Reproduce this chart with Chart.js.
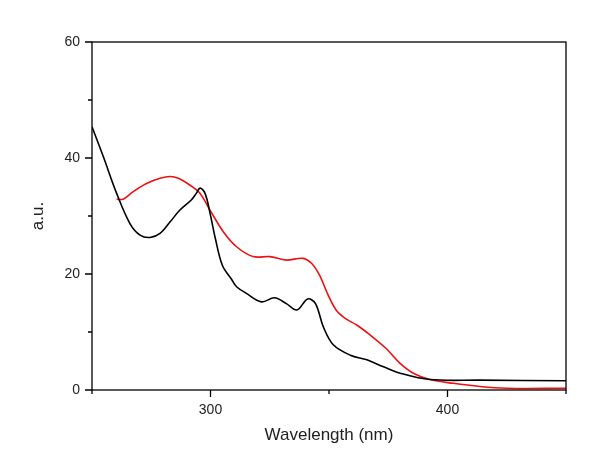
<!DOCTYPE html>
<html>
<head>
<meta charset="utf-8">
<script src="https://cdn.jsdelivr.net/npm/chart.js@4"></script>
<style>
  body { margin: 0; background: #fff; }
  canvas { display: block; }
</style>
</head>
<body>
<canvas id="spectra" width="605" height="465"></canvas>
<script>
// values
const blackX = [250, 254.8, 260.4, 266, 270.3, 274.5, 278.7, 283, 287, 292, 294, 295.6, 297.7, 299.8, 302, 305, 309, 311, 315, 321.5, 327, 332, 336.5, 341, 344.3, 347.6, 351.8, 359, 366, 373, 380, 392.6, 413.7, 450];
const blackY = [45.4, 40.2, 33.9, 28.7, 26.7, 26.3, 27.0, 29.0, 31.0, 32.8, 33.9, 34.8, 33.9, 30.5, 26.2, 21.5, 19.0, 17.8, 16.7, 15.2, 15.9, 14.9, 13.8, 15.7, 14.9, 10.9, 7.8, 6.0, 5.2, 4.0, 2.9, 1.8, 1.7, 1.6];
const redX = [260.4, 263.2, 267.4, 273, 278.7, 283, 286.4, 291.4, 295.6, 299.8, 305.4, 311, 318, 325, 332, 339, 342.7, 346, 349.5, 353, 357, 361.7, 367.3, 374, 380, 385.6, 392.6, 402.4, 413.7, 425, 450];
const redY = [32.9, 32.9, 34.2, 35.6, 36.5, 36.8, 36.5, 35.3, 33.9, 31.0, 27.3, 24.7, 23.0, 23.0, 22.4, 22.7, 21.8, 19.8, 16.5, 13.8, 12.3, 11.2, 9.5, 7.2, 4.6, 2.9, 1.8, 1.15, 0.6, 0.3, 0.3];
const xMajor = [300, 400];
const xMinor = [250, 350, 450];
const yMajor = [0, 20, 40, 60];
const yMinor = [10, 30, 50];

const pts = (xs, ys) => xs.map((x, i) => ({ x: x, y: ys[i] }));

// frame + outward tick marks
const frameTicks = {
    id: 'frameTicks',
    afterDraw(chart) {
        const c = chart.ctx, a = chart.chartArea;
        const sx = chart.scales.x, sy = chart.scales.y;
        c.save();
        c.strokeStyle = '#000';
        c.lineWidth = 1.3;
        c.strokeRect(a.left, a.top, a.right - a.left, a.bottom - a.top);
        c.beginPath();
        xMajor.forEach(v => { const p = sx.getPixelForValue(v); c.moveTo(p, a.bottom); c.lineTo(p, a.bottom + 7); });
        xMinor.forEach(v => { const p = sx.getPixelForValue(v); c.moveTo(p, a.bottom); c.lineTo(p, a.bottom + 4); });
        yMajor.forEach(v => { const p = sy.getPixelForValue(v); c.moveTo(a.left, p); c.lineTo(a.left - 7, p); });
        yMinor.forEach(v => { const p = sy.getPixelForValue(v); c.moveTo(a.left, p); c.lineTo(a.left - 4, p); });
        c.stroke();
        c.restore();
    }
};

new Chart(document.getElementById('spectra'), {
    type: 'scatter',
    data: {
        datasets: [
            {
                data: pts(blackX, blackY),
                showLine: true,
                borderColor: '#000',
                borderWidth: 1.6,
                pointRadius: 0,
                tension: 0.35
            },
            {
                data: pts(redX, redY),
                showLine: true,
                borderColor: '#ee1111',
                borderWidth: 1.6,
                pointRadius: 0,
                tension: 0.35
            }
        ]
    },
    options: {
        responsive: false,
        animation: false,
        layout: { padding: { left: 0, right: 39, top: 42, bottom: 0 } },
        plugins: { legend: { display: false }, tooltip: { enabled: false } },
        scales: {
            x: {
                type: 'linear',
                min: 250, max: 450,
                grid: { display: false },
                border: { display: false },
                afterBuildTicks(scale) { scale.ticks = xMajor.map(v => ({ value: v })); },
                afterFit(scale) { scale.height = 75; },
                ticks: {
                    padding: 4,
                    color: '#222',
                    font: { family: 'Liberation Sans, Arial', size: 14 }
                },
                title: {
                    display: true,
                    text: 'Wavelength (nm)',
                    color: '#222',
                    padding: { top: 0, bottom: 19 },
                    font: { family: 'Liberation Sans, Arial', size: 17 }
                }
            },
            y: {
                min: 0, max: 60,
                grid: { display: false },
                border: { display: false },
                afterBuildTicks(scale) { scale.ticks = yMajor.map(v => ({ value: v })); },
                afterFit(scale) { scale.width = 92; },
                ticks: {
                    padding: 4,
                    color: '#222',
                    font: { family: 'Liberation Sans, Arial', size: 14 }
                },
                title: {
                    display: true,
                    text: 'a.u.',
                    color: '#222',
                    padding: { top: 28, bottom: 0 },
                    font: { family: 'Liberation Sans, Arial', size: 17 }
                }
            }
        }
    },
    plugins: [frameTicks]
});
</script>
</body>
</html>
